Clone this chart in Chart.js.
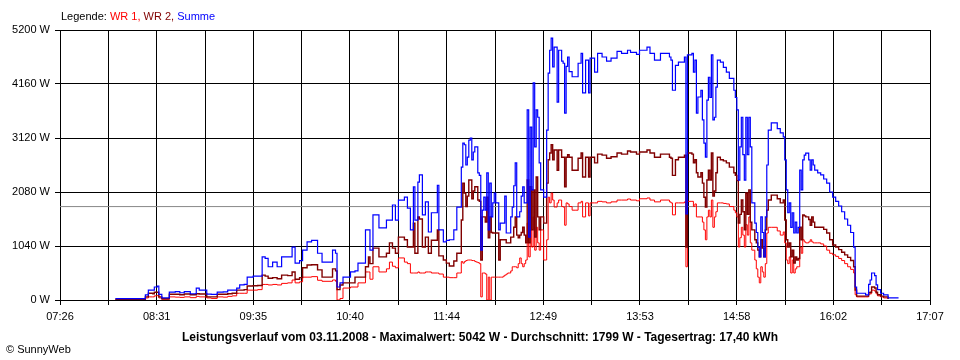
<!DOCTYPE html>
<html>
<head>
<meta charset="utf-8">
<script src="https://cdn.jsdelivr.net/npm/chart.js@4"></script>
<style>
html,body{margin:0;padding:0;background:#fff;}
#wrap{position:relative;width:960px;height:360px;font-family:"Liberation Sans",Arial,sans-serif;color:#000;}
#c{position:absolute;left:0;top:0;}
.legend{position:absolute;left:61px;top:11px;font-size:11px;line-height:11px;white-space:nowrap;}
.title{position:absolute;left:0;width:960px;top:331px;text-align:center;font-weight:bold;font-size:12px;line-height:12px;white-space:nowrap;}
.copy{position:absolute;left:6px;top:344px;font-size:11px;line-height:11px;white-space:nowrap;}
</style>
</head>
<body>
<div id="wrap">
<canvas id="c" width="960" height="360"></canvas>
<div class="legend">Legende: <span style="color:#ff0000">WR 1,</span> <span style="color:#800000">WR 2,</span> <span style="color:#0000ff">Summe</span></div>
<div class="title">Leistungsverlauf vom 03.11.2008 - Maximalwert: 5042 W - Durchschnitt: 1799 W - Tagesertrag: 17,40 kWh</div>
<div class="copy">© SunnyWeb</div>
</div>
<script>
// ---- axis definitions ----
const TICK_LABELS = ['07:26','08:31','09:35','10:40','11:44','12:49','13:53','14:58','16:02','17:07'];
const Y_TICKS = [0, 1040, 2080, 3120, 4160, 5200];
const AVERAGE = 1799;

// ---- sample times ----
const TIMES = [
"08:03","08:23","08:25","08:28","08:29","08:31","08:32","08:34","08:39","08:43",
"08:46","08:49","08:53","08:57","08:59","09:04","09:07","09:11","09:15","09:18",
"09:21","09:24","09:26","09:29","09:31","09:35","09:38","09:41","09:43","09:45",
"09:48","09:51","09:54","09:58","10:01","10:03","10:06","10:08","10:11","10:14",
"10:18","10:21","10:28","10:30","10:31","10:33","10:35","10:40","10:43","10:45",
"10:50","10:52","10:53","10:55","10:59","11:04","11:06","11:08","11:10","11:12",
"11:16","11:18","11:20","11:22","11:23","11:25","11:26","11:28","11:30","11:32",
"11:34","11:38","11:39","11:42","11:44","11:46","11:49","11:51",
"11:53","11:54","11:55","11:56","11:57","11:58","11:59","12:00","12:01","12:02",
"12:03","12:04","12:05","12:06","12:07","12:08","12:09","12:10","12:11","12:12",
"12:13","12:14","12:15","12:16","12:17","12:18","12:19","12:20","12:21","12:22",
"12:23","12:24","12:25","12:26","12:27","12:28","12:29","12:30","12:31","12:32",
"12:33","12:34","12:35","12:36","12:37","12:38","12:39","12:40","12:41","12:42",
"12:43","12:44","12:45","12:46","12:47","12:48","12:49","12:50","12:51","12:52",
"12:53","12:54","12:55","12:56","12:57","12:58","12:59","13:00","13:01","13:02",
"13:03","13:04","13:05","13:06",
"13:08","13:10","13:12","13:14","13:15","13:17","13:19","13:20","13:23","13:25",
"13:28","13:31","13:34","13:38","13:41","13:45","13:47","13:51","13:53","13:58",
"14:00","14:03","14:07","14:13","14:14","14:15","14:17","14:19","14:23","14:24",
"14:25",
"14:28","14:29","14:30","14:31","14:32","14:34","14:35","14:36","14:37","14:38",
"14:39","14:40","14:41","14:42","14:43","14:44","14:45","14:47","14:49","14:51",
"14:53","14:56","14:57","14:58","14:59","15:00","15:01","15:02","15:03","15:04",
"15:05","15:06","15:07","15:08","15:10","15:11","15:12","15:13","15:14","15:15",
"15:16","15:17","15:18","15:19","15:21","15:25","15:27",
"15:29","15:30","15:31","15:32","15:33","15:34","15:35","15:36","15:37","15:38",
"15:39","15:40","15:41","15:42","15:43","15:44","15:46","15:47","15:48","15:49",
"15:50","15:52","15:54","15:56","15:58","16:00","16:02","16:04","16:06","16:08",
"16:10","16:12","16:14","16:16","16:17","16:18","16:24","16:26","16:27","16:28",
"16:30","16:31","16:32","16:34","16:36","16:39","16:46"
];

// ---- Summe (W) ----
const SUMME = [
25,100,190,190,250,270,110,40,150,160,
140,160,120,230,190,115,110,150,155,190,
190,230,290,300,440,460,460,830,800,640,
730,640,830,830,1020,710,760,960,1120,1150,
900,730,960,900,250,330,440,540,560,710,
1350,1350,960,1640,1390,1540,1540,1830,1540,1925,
1980,1770,1350,2180,1540,2270,2410,1640,1890,1310,
1680,2210,1350,1120,1150,1160,1350,1790,
1790,2560,3020,2990,2600,2750,3080,3120,2700,2850,
2950,2950,2450,2400,960,1730,1980,1730,2450,1350,
2250,1600,1870,2060,1870,1870,1350,1480,1480,1480,
2000,1290,1290,1290,1600,1790,2200,2640,1600,1600,
1700,2000,2180,1870,1870,3660,1210,3330,2120,4180,
2950,3660,3520,2640,2120,2120,1980,1980,3270,4370,
4810,5042,4490,4870,4870,3810,4810,4810,4600,4560,
3600,4500,4680,4400,
4300,4300,4560,4750,3990,4620,3990,4660,4390,4750,
4680,4600,4660,4790,4750,4810,4770,4730,4810,4870,
4750,4620,4750,4680,4620,4040,4520,4580,4680,1660,
4720,
4750,4390,4620,3600,3910,4040,3470,3020,2750,3850,
4290,3900,4720,3470,3520,4100,4620,4580,4480,4390,
4270,4040,3900,3660,2310,2950,3520,2800,2310,3520,
2800,3520,2950,1870,1480,1300,1020,830,1600,1300,
830,1600,2600,3270,3410,3300,3220,
3140,2700,2120,1680,1870,1400,1680,1290,1500,1290,
1400,2500,2120,2700,2790,2830,2700,2500,2700,2600,
2500,2450,2410,2330,2250,2080,1980,1900,1810,1700,
1560,1440,1300,1020,250,130,100,300,385,520,
470,290,200,130,100,40,40
];

// ---- WR 2 (W) ----
const WR2 = [
15,60,130,120,150,150,60,25,110,110,
100,115,100,120,115,60,60,110,110,120,
130,190,190,200,270,275,280,480,460,420,
430,410,480,470,540,400,430,620,675,680,
580,440,600,560,200,290,330,330,440,440,
640,830,700,1000,830,900,1100,1000,900,1210,
1160,1020,1020,1480,900,1600,1560,1020,1210,900,
1150,1350,850,770,710,655,750,900,
900,1540,2250,2060,1800,2000,2310,2310,1950,2100,
2180,2180,1925,1900,770,1600,1600,1500,1980,1200,
1600,1300,1290,1290,1290,1290,770,1160,1160,1160,
1160,1100,1100,1100,1210,1210,1400,1600,1250,1200,
1250,1300,1400,1250,1100,2310,1100,2180,1350,2120,
1210,2370,1600,1350,1600,1600,1480,1480,2250,2700,
2830,2990,2700,2890,2890,2500,2890,2890,2750,2750,
2180,2750,2800,2750,
2500,2500,2730,2830,2370,2750,2370,2750,2640,2810,
2790,2730,2760,2830,2810,2870,2850,2810,2850,2890,
2830,2750,2810,2750,2730,2400,2700,2750,2790,1020,
2830,
2810,2640,2700,2450,2370,2450,2250,1980,1790,2310,
2500,2310,2830,2000,2100,2450,2750,2700,2680,2640,
2560,2450,2400,2300,1480,1650,1925,1700,1350,2060,
1650,2120,1500,1350,1160,1100,960,830,1160,1000,
830,1350,1730,1925,2020,1950,1870,
1925,1540,1160,1020,1100,830,960,710,830,770,
800,1400,1160,1640,1620,1600,1550,1440,1600,1500,
1400,1400,1400,1360,1290,1160,1060,1020,970,920,
870,820,760,640,190,75,75,140,150,250,
230,150,100,75,60,20,null
];

// ---- WR 1 (W) ----
const WR1 = [
10,40,60,60,80,90,40,15,60,55,
50,60,45,70,60,40,30,60,55,70,
80,130,130,130,190,190,200,300,300,290,
300,290,320,330,385,330,350,440,440,450,
380,360,385,360,0,30,230,250,250,330,
540,540,400,640,540,600,730,650,620,810,
730,700,520,520,520,540,520,520,540,540,
520,520,500,440,440,430,430,520,
520,740,710,740,760,770,770,770,760,760,
740,730,720,700,60,520,520,500,0,440,
0,440,440,440,440,440,440,440,440,460,
480,500,520,520,560,640,640,640,620,700,
810,700,640,700,770,1480,830,1350,1020,1600,
960,1400,1100,960,1350,1350,770,770,1160,1980,
1870,2060,1925,1790,1790,1870,1925,1925,1800,1790,
1440,1870,1850,1800,
1730,1730,1870,1900,1600,1870,1620,1870,1870,1900,
1890,1870,1890,1925,1925,1945,1925,1910,1950,1965,
1925,1890,1925,1890,1870,1640,1870,1870,1890,640,
1900,
1900,1800,1850,1600,1600,1600,1500,1350,1160,1600,
1730,1600,1925,1400,1600,1700,1870,1870,1860,1850,
1800,1730,1680,1600,1020,1200,1400,1250,1020,1450,
1250,1600,1100,960,770,600,440,330,640,540,
440,700,1290,1400,1400,1330,1250,
1310,1100,770,700,830,520,770,520,600,640,
640,1020,900,1160,1120,1100,1120,1160,1120,1100,
1100,1100,1080,1040,960,900,870,840,800,760,
700,640,590,520,100,60,60,110,120,190,
170,120,80,60,40,20,null
];

// ---- helpers ----
const toMin = s => { const p = s.split(':'); return (+p[0]) * 60 + (+p[1]); };
const X_MIN = toMin(TICK_LABELS[0]);
const X_MAX = toMin(TICK_LABELS[TICK_LABELS.length - 1]);
const GRID_COUNT = (TICK_LABELS.length - 1) * 2;
const series = vals => TIMES.map((t, i) => ({ x: toMin(t), y: vals[i] }));
const FONT = { family: '"Liberation Sans", Arial, sans-serif', size: 11 };

new Chart(document.getElementById('c'), {
  type: 'line',
  data: {
    datasets: [
      { label: 'Summe', data: series(SUMME), borderColor: '#0000ff', borderWidth: 1.2, stepped: true, pointRadius: 0, order: 1, borderJoinStyle: 'miter' },
      { label: 'WR 2', data: series(WR2), borderColor: '#800000', borderWidth: 1.4, stepped: true, pointRadius: 0, order: 2, borderJoinStyle: 'miter' },
      { label: 'WR 1', data: series(WR1), borderColor: '#ff0000', borderWidth: 1, stepped: true, pointRadius: 0, order: 3, borderJoinStyle: 'miter' },
      { label: 'Durchschnitt', data: [{ x: X_MIN, y: AVERAGE }, { x: X_MAX, y: AVERAGE }], borderColor: '#888888', borderWidth: 1, pointRadius: 0, order: 4 }
    ]
  },
  options: {
    responsive: false,
    animation: false,
    devicePixelRatio: 1,
    spanGaps: false,
    layout: { padding: { top: 30, right: 30, bottom: 0, left: 0 } },
    plugins: { legend: { display: false }, title: { display: false }, tooltip: { enabled: false } },
    events: [],
    scales: {
      x: {
        type: 'linear',
        min: X_MIN,
        max: X_MAX,
        afterBuildTicks: s => {
          const t = [];
          for (let i = 0; i <= GRID_COUNT; i++) t.push({ value: X_MIN + i * (X_MAX - X_MIN) / GRID_COUNT });
          s.ticks = t;
        },
        afterFit: s => { s.height = 60; },
        ticks: {
          autoSkip: false, maxRotation: 0, minRotation: 0, padding: 5, color: '#000', font: FONT,
          callback: (v, i) => (i % 2 === 0 ? TICK_LABELS[i / 2] : '')
        },
        grid: { color: '#000', lineWidth: 1, tickLength: 5, drawTicks: true },
        border: { color: '#000', width: 1 }
      },
      y: {
        min: Y_TICKS[0],
        max: Y_TICKS[Y_TICKS.length - 1],
        afterBuildTicks: s => { s.ticks = Y_TICKS.map(v => ({ value: v })); },
        afterFit: s => { s.width = 60; },
        ticks: { padding: 5, color: '#000', font: FONT, callback: v => v + ' W' },
        grid: { color: '#000', lineWidth: 1, tickLength: 5, drawTicks: true },
        border: { color: '#000', width: 1 }
      }
    }
  }
});
</script>
</body>
</html>
